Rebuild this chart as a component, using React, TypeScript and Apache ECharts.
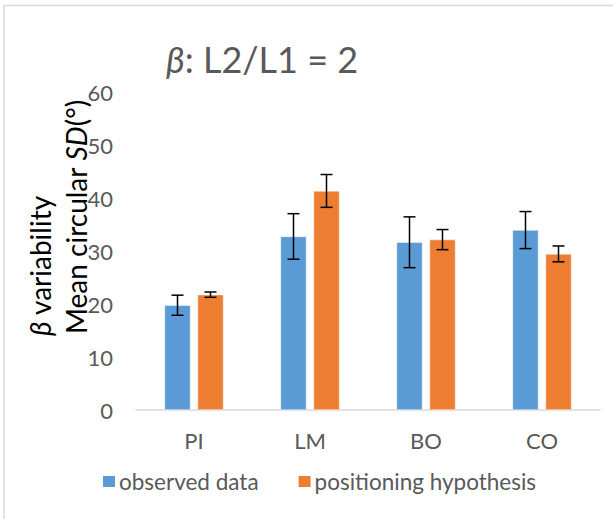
import React, { useEffect, useRef } from "react";
import * as echarts from "echarts";

const categories = ["PI", "LM", "BO", "CO"];
const observed = [19.8, 32.8, 31.7, 34.0];
const observedErr = [1.9, 4.3, 4.8, 3.5];
const hypothesis = [21.8, 41.4, 32.2, 29.5];
const hypothesisErr = [0.5, 3.1, 1.9, 1.5];
const seriesNames = ["observed data", "positioning hypothesis"];
const yTicks = { min: 0, max: 60, interval: 10 };

const FONT = "Lato, 'Noto Sans', 'DejaVu Sans', sans-serif";
const GRAY = "#595959";
const BLUE = "#5B9BD5";
const ORANGE = "#ED7D31";
const BAR_W = 26;
const PAIR_OFFSET = 16.5;

function errorSeries(name: string, vals: number[], errs: number[], offset: number) {
  return {
    type: "custom",
    name: name + " err",
    silent: true,
    z: 10,
    data: vals.map((v, i) => [i, v - errs[i], v + errs[i]]),
    encode: { x: 0, y: [1, 2] },
    renderItem: (params: any, api: any) => {
      const i = api.value(0);
      const lo = api.coord([i, api.value(1)]);
      const hi = api.coord([i, api.value(2)]);
      const x = lo[0] + offset;
      const cap = 6;
      const style = { stroke: "#000", lineWidth: 1.5 };
      return {
        type: "group",
        children: [
          { type: "line", shape: { x1: x, y1: lo[1], x2: x, y2: hi[1] }, style },
          { type: "line", shape: { x1: x - cap, y1: lo[1], x2: x + cap, y2: lo[1] }, style },
          { type: "line", shape: { x1: x - cap, y1: hi[1], x2: x + cap, y2: hi[1] }, style },
        ],
      };
    },
  };
}

const axisRich = (size: number) => ({
  i: { fontFamily: FONT, fontStyle: "italic", fontSize: size, lineHeight: 32, fill: "#000" },
  n: { fontFamily: FONT, fontSize: size, lineHeight: 32, fill: "#000" },
});

export default function App() {
  const ref = useRef<HTMLDivElement>(null);
  useEffect(() => {
    if (!ref.current) return;
    const chart = echarts.init(ref.current, null, { renderer: "svg" });
    chart.setOption({
      animation: false,
      backgroundColor: "#fff",
      grid: { left: 136, right: 13, top: 92.5, bottom: 109 },
      legend: {
        left: 96,
        top: 465,
        itemWidth: 14,
        itemHeight: 13,
        itemGap: 38,
        icon: "rect",
        data: seriesNames,
        textStyle: { fontFamily: FONT, fontSize: 22.5, color: GRAY, padding: [0, 0, 0, -2] },
      },
      graphic: [
        {
          type: "rect",
          shape: { x: 4, y: 5.5, width: 700, height: 600 },
          style: { fill: "none", stroke: "#D9D9D9", lineWidth: 1.5 },
          silent: true,
        },
        {
          type: "text",
          x: 166,
          y: 59,
          style: {
            text: "{b|β}{n|: L2/L1 = 2}",
            verticalAlign: "middle",
            rich: {
              b: { fontFamily: FONT, fontStyle: "italic", fontSize: 36, lineHeight: 40, fill: GRAY },
              n: { fontFamily: FONT, fontSize: 36, lineHeight: 40, fill: GRAY },
            },
          },
        },
        {
          type: "text",
          x: 40,
          y: 336,
          rotation: Math.PI / 2,
          style: {
            text: "{i|β}{n| variability}",
            align: "left",
            verticalAlign: "middle",
            rich: axisRich(28),
          },
        },
        {
          type: "text",
          x: 76,
          y: 334,
          rotation: Math.PI / 2,
          style: {
            text: "{n|Mean circular }{i|SD}{n|(°)}",
            align: "left",
            verticalAlign: "middle",
            rich: axisRich(28),
          },
        },
      ],
      xAxis: {
        type: "category",
        data: categories,
        axisLine: { show: true, lineStyle: { color: "#D9D9D9", width: 1.5 } },
        axisTick: { show: false },
        axisLabel: { fontFamily: FONT, fontSize: 22, color: GRAY, margin: 19 },
      },
      yAxis: {
        type: "value",
        min: yTicks.min,
        max: yTicks.max,
        interval: yTicks.interval,
        axisLine: { show: false },
        axisTick: { show: false },
        splitLine: { show: false },
        axisLabel: { fontFamily: FONT, fontSize: 22, color: GRAY, margin: 23 },
      },
      series: [
        {
          type: "bar",
          name: seriesNames[0],
          data: observed,
          barWidth: BAR_W,
          barGap: "27%",
          itemStyle: { color: BLUE, borderColor: "#fff", borderWidth: 0.5 },
        },
        {
          type: "bar",
          name: seriesNames[1],
          data: hypothesis,
          barWidth: BAR_W,
          itemStyle: { color: ORANGE, borderColor: "#fff", borderWidth: 0.5 },
        },
        errorSeries(seriesNames[0], observed, observedErr, -PAIR_OFFSET),
        errorSeries(seriesNames[1], hypothesis, hypothesisErr, PAIR_OFFSET),
      ],
    });
    return () => chart.dispose();
  }, []);
  return (
    <div
      ref={ref}
      style={{ position: "fixed", left: 0, top: 0, width: 613, height: 519 }}
    />
  );
}
